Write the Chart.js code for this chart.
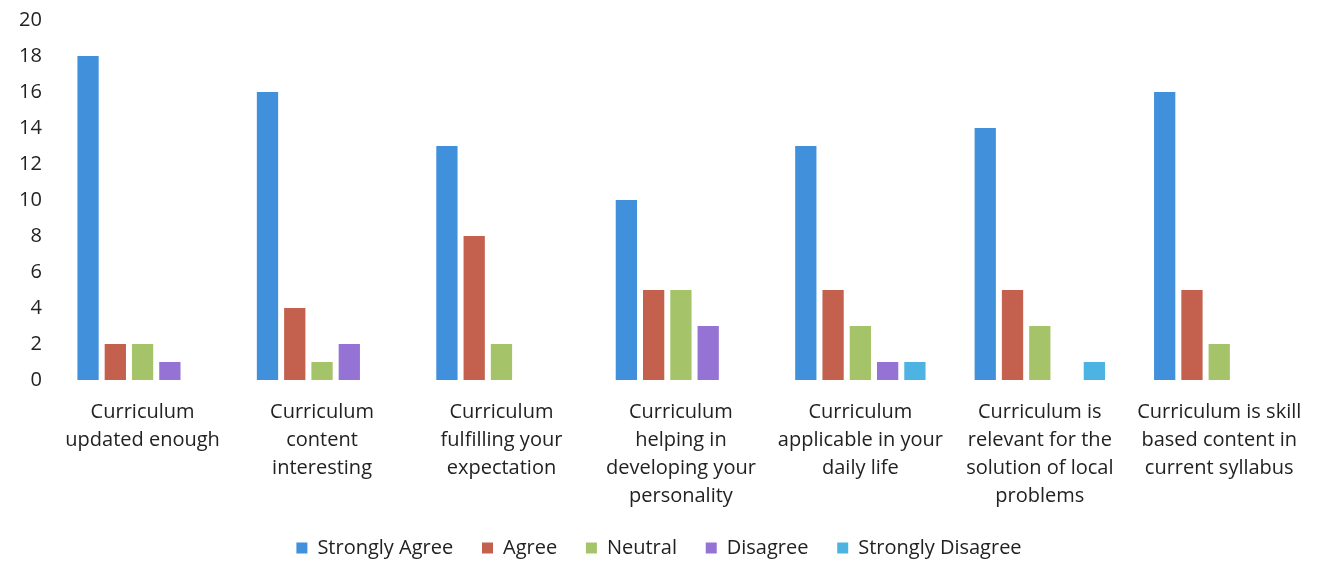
<!DOCTYPE html>
<html>
<head>
<meta charset="utf-8">
<script src="https://cdn.jsdelivr.net/npm/chart.js@4"></script>
<style>
  html, body { margin: 0; padding: 0; background: #fff; overflow: hidden; }
  #wrap { position: relative; top: -3px; width: 1320px; height: 571px; }
</style>
</head>
<body>
<div id="wrap"><canvas id="surveyChart"></canvas></div>
<script>
// categories and answers
const categories = [
  ["Curriculum", "updated enough"],
  ["Curriculum", "content", "interesting"],
  ["Curriculum", "fulfilling your", "expectation"],
  ["Curriculum", "helping in", "developing your", "personality"],
  ["Curriculum", "applicable in your", "daily life"],
  ["Curriculum is", "relevant for the", "solution of local", "problems"],
  ["Curriculum is skill", "based content in", "current syllabus"]
];
const stronglyAgree = [18, 16, 13, 10, 13, 14, 16];
const agree = [2, 4, 8, 5, 5, 5, 5];
const neutral = [2, 1, 2, 5, 3, 3, 2];
const disagree = [1, 2, 0, 3, 1, 0, 0];
const stronglyDisagree = [0, 0, 0, 0, 1, 1, 0];
const yTicks = [0, 2, 4, 6, 8, 10, 12, 14, 16, 18, 20];

const font = "'Open Sans', sans-serif";

document.addEventListener("DOMContentLoaded", () => {
  const ctx = document.getElementById("surveyChart").getContext("2d");
  const mk = (label, data, color) => ({
    label,
    data,
    backgroundColor: color,
    borderWidth: 0,
    categoryPercentage: 0.76,
    barPercentage: 0.78,
  });
  new Chart(ctx, {
    type: "bar",
    data: {
      labels: categories,
      datasets: [
        mk("Strongly Agree", stronglyAgree, "#4190DC"),
        mk("Agree", agree, "#C3604E"),
        mk("Neutral", neutral, "#A5C46A"),
        mk("Disagree", disagree, "#9573D4"),
        mk("Strongly Disagree", stronglyDisagree, "#4CB3E3"),
      ],
    },
    options: {
      responsive: true,
      maintainAspectRatio: false,
      animation: false,
      layout: { padding: { top: 0, right: 10, left: 8, bottom: 0 } },
      plugins: {
        tooltip: { enabled: false },
        legend: {
          position: "bottom",
          labels: {
            boxWidth: 11,
            boxHeight: 11,
            padding: 8,
            color: "#222",
            font: { family: font, size: 20 },
            // a little extra room after each entry, like the original
            generateLabels: (chart) => {
              const items = Chart.defaults.plugins.legend.labels.generateLabels(chart);
              return items.map((l, i) =>
                i < items.length - 1 ? { ...l, text: l.text + "    " } : l
              );
            },
          },
        },
      },
      scales: {
        x: {
          grid: { display: false, drawTicks: false },
          border: { display: false },
          afterFit: (axis) => {
            axis.height += 2;
          },
          ticks: {
            autoSkip: false,
            maxRotation: 0,
            padding: 18,
            color: "#222",
            font: { family: font, size: 20, lineHeight: 1.4 },
          },
        },
        y: {
          min: 0,
          max: 20,
          grid: { display: false, drawTicks: false },
          border: { display: false },
          afterBuildTicks: (axis) => {
            axis.ticks = yTicks.map((v) => ({ value: v }));
          },
          ticks: {
            padding: 11,
            color: "#222",
            font: { family: font, size: 20 },
          },
        },
      },
    },
  });
});
</script>
</body>
</html>
